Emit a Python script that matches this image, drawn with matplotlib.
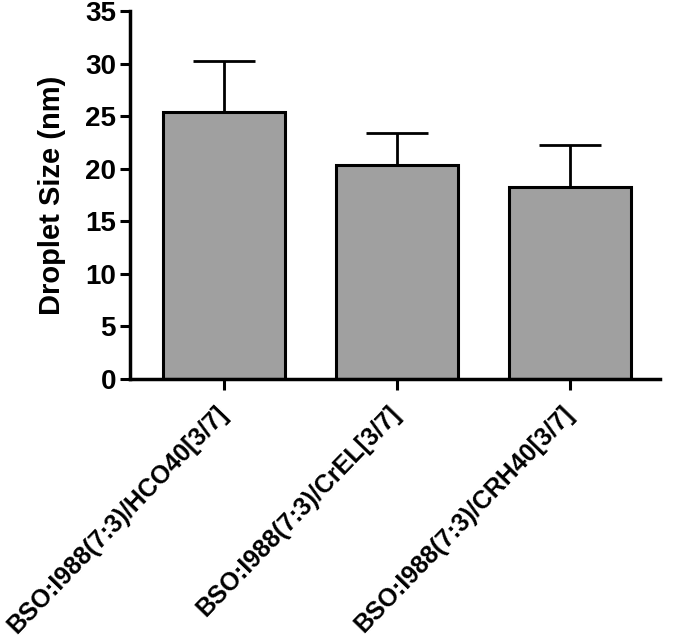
import matplotlib
matplotlib.use("Agg")
import matplotlib.pyplot as plt
import numpy as np

categories = ["BSO:I988(7:3)/HCO40[3/7]", "BSO:I988(7:3)/CrEL[3/7]", "BSO:I988(7:3)/CRH40[3/7]"]
means = [25.4, 20.4, 18.3]
errors = [4.8, 3.0, 4.0]
yticks = [0, 5, 10, 15, 20, 25, 30, 35]

plt.rcParams['font.family'] = ['Liberation Sans', 'DejaVu Sans']
plt.rcParams['font.weight'] = 'bold'

fig = plt.figure(figsize=(6.89, 6.38), dpi=100)
ax = fig.add_axes([130/689, 1-379/638, 530/689, 368/638])

x = np.arange(len(categories))
ax.bar(x, means, width=0.7, color='#a0a0a0', edgecolor='black', linewidth=2.2, zorder=2)
ax.errorbar(x, means, yerr=[np.zeros(len(means)), errors], fmt='none', ecolor='black',
            elinewidth=2.0, capsize=22, capthick=2.0, zorder=1)

ax.set_xlim(-0.543, 2.52)
ax.set_ylim(0, 35)
ax.set_yticks(yticks)
ax.set_xticks(x)
ax.set_xticklabels(categories, rotation=46, ha='right', va='center', rotation_mode='anchor',
                   fontsize=18, fontweight='bold')
ax.tick_params(axis='y', labelsize=20, width=2.2, length=7, direction='out', pad=3)
ax.tick_params(axis='x', width=2.2, length=8, direction='out', pad=14)
for lbl in ax.get_yticklabels():
    lbl.set_fontweight('bold')
ax.set_ylabel("Droplet Size (nm)", fontsize=21, fontweight='bold', labelpad=14)
for s in ['top', 'right']:
    ax.spines[s].set_visible(False)
for s in ['left', 'bottom']:
    ax.spines[s].set_linewidth(2.5)

fig.savefig("out.png", dpi=100)
